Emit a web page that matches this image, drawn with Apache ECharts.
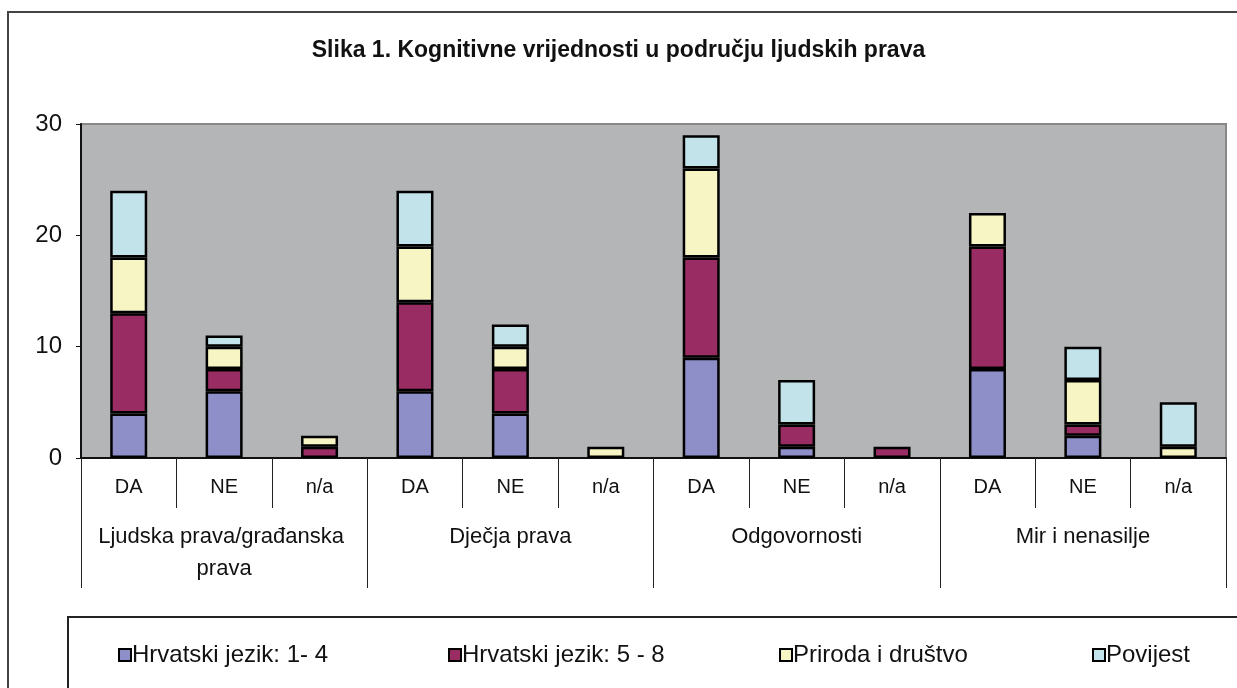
<!DOCTYPE html>
<html>
<head>
<meta charset="utf-8">
<script src="https://cdn.jsdelivr.net/npm/echarts@6/dist/echarts.min.js"></script>
<style>
  html, body { margin: 0; padding: 0; background: #fff; }
  #main { width: 1237px; height: 688px; }
</style>
</head>
<body>
<div id="main"></div>
<script>
// podaci (kategorije i vrijednosti po predmetu)
var titleText = 'Slika 1. Kognitivne vrijednosti u području ljudskih prava';
var answers = ['DA', 'NE', 'n/a', 'DA', 'NE', 'n/a', 'DA', 'NE', 'n/a', 'DA', 'NE', 'n/a'];
var groups = ['Ljudska prava/građanska prava', 'Dječja prava', 'Odgovornosti', 'Mir i nenasilje'];
var seriesNames = ['Hrvatski jezik: 1- 4', 'Hrvatski jezik: 5 - 8', 'Priroda i društvo', 'Povijest'];
var hrv14    = [4, 6, 0, 6, 4, 0, 9, 1, 0, 8, 2, 0];
var hrv58    = [9, 2, 1, 8, 4, 0, 9, 2, 1, 11, 1, 0];
var priroda  = [5, 2, 1, 5, 2, 1, 8, 0, 0, 3, 4, 1];
var povijest = [6, 1, 0, 5, 2, 0, 3, 4, 0, 0, 3, 4];
var colors = ['#8e8fc8', '#982c63', '#f6f5c3', '#c3e3ea'];

window.onload = function () {
    var myChart = echarts.init(document.getElementById('main'));
    var font = 'Liberation Sans, Arial, sans-serif';

    // nule se ne crtaju (inace se vidi crni rub)
    function clean(arr) {
        return arr.map(function (v) { return v === 0 ? null : v; });
    }
    var values = [hrv14, hrv58, priroda, povijest];

    var series = [];
    for (var i = 0; i < seriesNames.length; i++) {
        series.push({
            name: seriesNames[i],
            type: 'bar',
            stack: 'ukupno',
            barWidth: 37,
            data: clean(values[i]),
            itemStyle: {
                color: colors[i],
                borderColor: '#000',
                borderWidth: 2.5
            }
        });
    }

    var legendX = [113, 443, 774, 1087];
    var legends = seriesNames.map(function (n, i) {
        return {
            data: [n],
            left: legendX[i],
            top: 638,
            itemWidth: 12,
            itemHeight: 12,
            itemGap: 4,
            icon: 'rect',
            itemStyle: { borderColor: '#000', borderWidth: 2 },
            textStyle: { fontFamily: font, fontSize: 24, color: '#111', padding: [0, 0, 0, -4] }
        };
    });

    option = {
        animation: false,
        backgroundColor: '#fff',
        color: colors,
        title: {
            text: titleText,
            left: 'center',
            top: 34,
            textStyle: { fontFamily: font, fontSize: 23, fontWeight: 'bold', color: '#111' }
        },
        legend: legends,
        graphic: [
            { type: 'rect', shape: { x: 8, y: 12, width: 1300, height: 700 },
              style: { fill: 'none', stroke: '#444', lineWidth: 2 }, z: -1 },
            { type: 'rect', shape: { x: 68, y: 617, width: 1300, height: 200 },
              style: { fill: 'none', stroke: '#222', lineWidth: 2 }, z: -1 }
        ],
        grid: {
            left: 81,
            right: 11,
            top: 124,
            bottom: 230,
            show: true,
            backgroundColor: '#b3b5b6',
            borderColor: '#888',
            borderWidth: 2
        },
        xAxis: [
            {
                type: 'category',
                data: answers,
                axisLine: { lineStyle: { color: '#111', width: 2 } },
                axisTick: { show: true, interval: 0, length: 50, lineStyle: { color: '#222' } },
                axisLabel: { interval: 0, margin: 19, fontFamily: font, fontSize: 20, color: '#111' }
            },
            {
                type: 'category',
                data: groups,
                position: 'bottom',
                axisLine: { show: false },
                axisTick: { show: true, interval: 0, length: 130, lineStyle: { color: '#222' } },
                axisLabel: {
                    interval: 0,
                    margin: 63,
                    fontFamily: font,
                    fontSize: 22,
                    color: '#111',
                    lineHeight: 32,
                    width: 272,
                    overflow: 'break'
                }
            }
        ],
        yAxis: {
            type: 'value',
            min: 0,
            max: 30,
            interval: 10,
            splitLine: { show: false },
            axisLine: { show: true, lineStyle: { color: '#111', width: 2 } },
            axisTick: { show: true, length: 5, lineStyle: { color: '#111' } },
            axisLabel: { margin: 19, fontFamily: font, fontSize: 24, color: '#111' }
        },
        series: series
    };

    myChart.setOption(option);
};
</script>
</body>
</html>
